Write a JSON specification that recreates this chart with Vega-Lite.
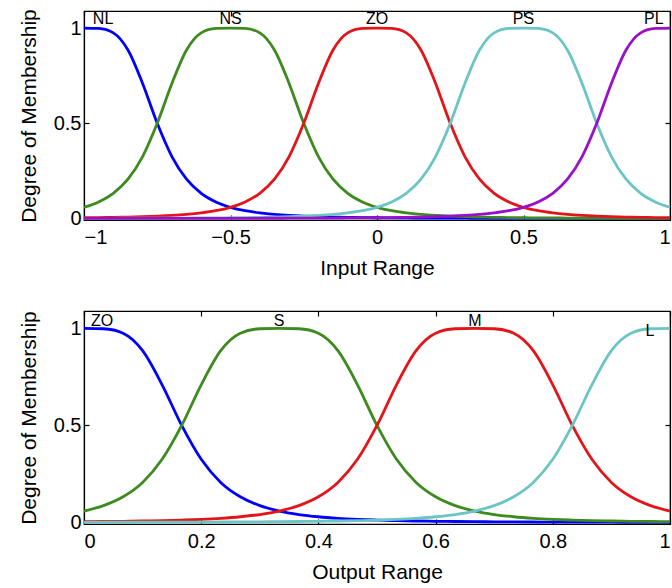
{
  "$schema": "https://vega.github.io/schema/vega-lite/v6.json",
  "padding": {"left": 17, "top": 8, "right": 0, "bottom": 0},
  "config": {
    "font": "Liberation Sans",
    "view": {"stroke": "black", "strokeWidth": 1.2},
    "axis": {
      "domainColor": "black", "domainWidth": 1.2, "tickColor": "black", "tickSize": -5, "tickWidth": 1.2,
      "labelColor": "black", "labelFontSize": 20, "labelFont": "Liberation Sans",
      "titleColor": "black", "titleFontSize": 21, "titleFontWeight": "normal", "titleFont": "Liberation Sans",
      "grid": false, "labelPadding": 8
    },
    "axisBottom": {"labelPadding": 12}
  },
  "datasets": {
    "inp": [
      {"x": -1, "NL": 1, "NS": 0.0588, "ZO": 0.0039, "PS": 0.0008, "PL": 0.0002},
      {"x": -0.95, "NL": 0.9984, "NS": 0.087, "ZO": 0.0048, "PS": 0.0009, "PL": 0.0003},
      {"x": -0.9, "NL": 0.975, "NS": 0.1324, "ZO": 0.0059, "PS": 0.001, "PL": 0.0003},
      {"x": -0.85, "NL": 0.8853, "NS": 0.2065, "ZO": 0.0074, "PS": 0.0012, "PL": 0.0003},
      {"x": -0.8, "NL": 0.7095, "NS": 0.3254, "ZO": 0.0094, "PS": 0.0014, "PL": 0.0004},
      {"x": -0.75, "NL": 0.5, "NS": 0.5, "ZO": 0.0122, "PS": 0.0016, "PL": 0.0004},
      {"x": -0.7, "NL": 0.3254, "NS": 0.7095, "ZO": 0.016, "PS": 0.0019, "PL": 0.0005},
      {"x": -0.65, "NL": 0.2065, "NS": 0.8853, "ZO": 0.0214, "PS": 0.0022, "PL": 0.0005},
      {"x": -0.6, "NL": 0.1324, "NS": 0.975, "ZO": 0.0293, "PS": 0.0027, "PL": 0.0006},
      {"x": -0.55, "NL": 0.087, "NS": 0.9984, "ZO": 0.0409, "PS": 0.0032, "PL": 0.0007},
      {"x": -0.5, "NL": 0.0588, "NS": 1, "ZO": 0.0588, "PS": 0.0039, "PL": 0.0008},
      {"x": -0.45, "NL": 0.0409, "NS": 0.9984, "ZO": 0.087, "PS": 0.0048, "PL": 0.0009},
      {"x": -0.4, "NL": 0.0293, "NS": 0.975, "ZO": 0.1324, "PS": 0.0059, "PL": 0.001},
      {"x": -0.35, "NL": 0.0214, "NS": 0.8853, "ZO": 0.2065, "PS": 0.0074, "PL": 0.0012},
      {"x": -0.3, "NL": 0.016, "NS": 0.7095, "ZO": 0.3254, "PS": 0.0094, "PL": 0.0014},
      {"x": -0.25, "NL": 0.0122, "NS": 0.5, "ZO": 0.5, "PS": 0.0122, "PL": 0.0016},
      {"x": -0.2, "NL": 0.0094, "NS": 0.3254, "ZO": 0.7095, "PS": 0.016, "PL": 0.0019},
      {"x": -0.15, "NL": 0.0074, "NS": 0.2065, "ZO": 0.8853, "PS": 0.0214, "PL": 0.0022},
      {"x": -0.1, "NL": 0.0059, "NS": 0.1324, "ZO": 0.975, "PS": 0.0293, "PL": 0.0027},
      {"x": -0.05, "NL": 0.0048, "NS": 0.087, "ZO": 0.9984, "PS": 0.0409, "PL": 0.0032},
      {"x": 0, "NL": 0.0039, "NS": 0.0588, "ZO": 1, "PS": 0.0588, "PL": 0.0039},
      {"x": 0.05, "NL": 0.0032, "NS": 0.0409, "ZO": 0.9984, "PS": 0.087, "PL": 0.0048},
      {"x": 0.1, "NL": 0.0027, "NS": 0.0293, "ZO": 0.975, "PS": 0.1324, "PL": 0.0059},
      {"x": 0.15, "NL": 0.0022, "NS": 0.0214, "ZO": 0.8853, "PS": 0.2065, "PL": 0.0074},
      {"x": 0.2, "NL": 0.0019, "NS": 0.016, "ZO": 0.7095, "PS": 0.3254, "PL": 0.0094},
      {"x": 0.25, "NL": 0.0016, "NS": 0.0122, "ZO": 0.5, "PS": 0.5, "PL": 0.0122},
      {"x": 0.3, "NL": 0.0014, "NS": 0.0094, "ZO": 0.3254, "PS": 0.7095, "PL": 0.016},
      {"x": 0.35, "NL": 0.0012, "NS": 0.0074, "ZO": 0.2065, "PS": 0.8853, "PL": 0.0214},
      {"x": 0.4, "NL": 0.001, "NS": 0.0059, "ZO": 0.1324, "PS": 0.975, "PL": 0.0293},
      {"x": 0.45, "NL": 0.0009, "NS": 0.0048, "ZO": 0.087, "PS": 0.9984, "PL": 0.0409},
      {"x": 0.5, "NL": 0.0008, "NS": 0.0039, "ZO": 0.0588, "PS": 1, "PL": 0.0588},
      {"x": 0.55, "NL": 0.0007, "NS": 0.0032, "ZO": 0.0409, "PS": 0.9984, "PL": 0.087},
      {"x": 0.6, "NL": 0.0006, "NS": 0.0027, "ZO": 0.0293, "PS": 0.975, "PL": 0.1324},
      {"x": 0.65, "NL": 0.0005, "NS": 0.0022, "ZO": 0.0214, "PS": 0.8853, "PL": 0.2065},
      {"x": 0.7, "NL": 0.0005, "NS": 0.0019, "ZO": 0.016, "PS": 0.7095, "PL": 0.3254},
      {"x": 0.75, "NL": 0.0004, "NS": 0.0016, "ZO": 0.0122, "PS": 0.5, "PL": 0.5},
      {"x": 0.8, "NL": 0.0004, "NS": 0.0014, "ZO": 0.0094, "PS": 0.3254, "PL": 0.7095},
      {"x": 0.85, "NL": 0.0003, "NS": 0.0012, "ZO": 0.0074, "PS": 0.2065, "PL": 0.8853},
      {"x": 0.9, "NL": 0.0003, "NS": 0.001, "ZO": 0.0059, "PS": 0.1324, "PL": 0.975},
      {"x": 0.95, "NL": 0.0003, "NS": 0.0009, "ZO": 0.0048, "PS": 0.087, "PL": 0.9984},
      {"x": 1, "NL": 0.0002, "NS": 0.0008, "ZO": 0.0039, "PS": 0.0588, "PL": 1}
    ],
    "out": [
      {"x": 0, "ZO": 1, "S": 0.0588, "M": 0.0039, "L": 0.0008},
      {"x": 0.0333, "ZO": 0.9984, "S": 0.087, "M": 0.0048, "L": 0.0009},
      {"x": 0.0667, "ZO": 0.975, "S": 0.1324, "M": 0.0059, "L": 0.001},
      {"x": 0.1, "ZO": 0.8853, "S": 0.2065, "M": 0.0074, "L": 0.0012},
      {"x": 0.1333, "ZO": 0.7095, "S": 0.3254, "M": 0.0094, "L": 0.0014},
      {"x": 0.1667, "ZO": 0.5, "S": 0.5, "M": 0.0122, "L": 0.0016},
      {"x": 0.2, "ZO": 0.3254, "S": 0.7095, "M": 0.016, "L": 0.0019},
      {"x": 0.2333, "ZO": 0.2065, "S": 0.8853, "M": 0.0214, "L": 0.0022},
      {"x": 0.2667, "ZO": 0.1324, "S": 0.975, "M": 0.0293, "L": 0.0027},
      {"x": 0.3, "ZO": 0.087, "S": 0.9984, "M": 0.0409, "L": 0.0032},
      {"x": 0.3333, "ZO": 0.0588, "S": 1, "M": 0.0588, "L": 0.0039},
      {"x": 0.3667, "ZO": 0.0409, "S": 0.9984, "M": 0.087, "L": 0.0048},
      {"x": 0.4, "ZO": 0.0293, "S": 0.975, "M": 0.1324, "L": 0.0059},
      {"x": 0.4333, "ZO": 0.0214, "S": 0.8853, "M": 0.2065, "L": 0.0074},
      {"x": 0.4667, "ZO": 0.016, "S": 0.7095, "M": 0.3254, "L": 0.0094},
      {"x": 0.5, "ZO": 0.0122, "S": 0.5, "M": 0.5, "L": 0.0122},
      {"x": 0.5333, "ZO": 0.0094, "S": 0.3254, "M": 0.7095, "L": 0.016},
      {"x": 0.5667, "ZO": 0.0074, "S": 0.2065, "M": 0.8853, "L": 0.0214},
      {"x": 0.6, "ZO": 0.0059, "S": 0.1324, "M": 0.975, "L": 0.0293},
      {"x": 0.6333, "ZO": 0.0048, "S": 0.087, "M": 0.9984, "L": 0.0409},
      {"x": 0.6667, "ZO": 0.0039, "S": 0.0588, "M": 1, "L": 0.0588},
      {"x": 0.7, "ZO": 0.0032, "S": 0.0409, "M": 0.9984, "L": 0.087},
      {"x": 0.7333, "ZO": 0.0027, "S": 0.0293, "M": 0.975, "L": 0.1324},
      {"x": 0.7667, "ZO": 0.0022, "S": 0.0214, "M": 0.8853, "L": 0.2065},
      {"x": 0.8, "ZO": 0.0019, "S": 0.016, "M": 0.7095, "L": 0.3254},
      {"x": 0.8333, "ZO": 0.0016, "S": 0.0122, "M": 0.5, "L": 0.5},
      {"x": 0.8667, "ZO": 0.0014, "S": 0.0094, "M": 0.3254, "L": 0.7095},
      {"x": 0.9, "ZO": 0.0012, "S": 0.0074, "M": 0.2065, "L": 0.8853},
      {"x": 0.9333, "ZO": 0.001, "S": 0.0059, "M": 0.1324, "L": 0.975},
      {"x": 0.9667, "ZO": 0.0009, "S": 0.0048, "M": 0.087, "L": 0.9984},
      {"x": 1, "ZO": 0.0008, "S": 0.0039, "M": 0.0588, "L": 1}
    ],
    "inlab": [
      {"x": -0.935, "y": 1.05, "t": "NL"},
      {"x": -0.5, "y": 1.05, "t": "NS"},
      {"x": 0, "y": 1.05, "t": "ZO"},
      {"x": 0.5, "y": 1.05, "t": "PS"},
      {"x": 0.945, "y": 1.05, "t": "PL"}
    ],
    "outlab": [
      {"x": 0.031, "y": 1.036, "t": "ZO"},
      {"x": 0.333, "y": 1.036, "t": "S"},
      {"x": 0.667, "y": 1.036, "t": "M"},
      {"x": 0.966, "y": 0.985, "t": "L"}
    ]
  },
  "spacing": 30,
  "resolve": {"scale": {"color": "independent", "x": "independent", "y": "independent"}},
  "vconcat": [
    {
      "width": 586,
      "height": 209,
      "resolve": {"axis": {"x": "independent", "y": "independent"}},
      "layer": [
        {
          "data": {"name": "inp"},
          "transform": [{"fold": ["NL", "NS", "ZO", "PS", "PL"], "as": ["mf", "mu"]}],
          "mark": {"type": "line", "strokeWidth": 2.8, "interpolate": "monotone"},
          "encoding": {
            "x": {"field": "x", "type": "quantitative", "scale": {"domain": [-1, 1], "nice": false, "zero": false},
                  "axis": {"values": [-1, -0.5, 0, 0.5, 1], "format": "~g", "title": "Input Range", "titlePadding": 10}},
            "y": {"field": "mu", "type": "quantitative", "scale": {"domain": [-0.008, 1.09], "nice": false},
                  "axis": {"values": [0, 0.5, 1], "format": "~g", "title": "Degree of Membership", "titlePadding": 14}},
            "color": {"field": "mf", "type": "nominal", "legend": null,
                      "scale": {"domain": ["NL", "NS", "ZO", "PS", "PL"], "range": ["#0000ff", "#3d8a1e", "#e3141a", "#6cc5c5", "#9a0fc8"]}},
            "order": {"field": "x", "type": "quantitative"}
          }
        },
        {
          "data": {"name": "inlab"},
          "mark": {"type": "text", "fontSize": 16, "font": "Liberation Sans", "color": "black"},
          "encoding": {
            "x": {"field": "x", "type": "quantitative", "axis": {"orient": "top", "values": [-1, -0.5, 0, 0.5, 1], "labels": false, "title": null}},
            "y": {"field": "y", "type": "quantitative", "axis": {"orient": "right", "values": [0, 0.5, 1], "labels": false, "title": null}},
            "text": {"field": "t"}
          }
        }
      ]
    },
    {
      "width": 586,
      "height": 213,
      "resolve": {"axis": {"x": "independent", "y": "independent"}},
      "layer": [
        {
          "data": {"name": "out"},
          "transform": [{"fold": ["ZO", "S", "M", "L"], "as": ["mf", "mu"]}],
          "mark": {"type": "line", "strokeWidth": 2.8, "interpolate": "monotone"},
          "encoding": {
            "x": {"field": "x", "type": "quantitative", "scale": {"domain": [0, 1], "nice": false},
                  "axis": {"values": [0, 0.2, 0.4, 0.6, 0.8, 1], "format": "~g", "title": "Output Range", "titlePadding": 10}},
            "y": {"field": "mu", "type": "quantitative", "scale": {"domain": [-0.008, 1.09], "nice": false},
                  "axis": {"values": [0, 0.5, 1], "format": "~g", "title": "Degree of Membership", "titlePadding": 14}},
            "color": {"field": "mf", "type": "nominal", "legend": null,
                      "scale": {"domain": ["ZO", "S", "M", "L"], "range": ["#0000ff", "#3d8a1e", "#e3141a", "#6cc5c5"]}},
            "order": {"field": "x", "type": "quantitative"}
          }
        },
        {
          "data": {"name": "outlab"},
          "mark": {"type": "text", "fontSize": 16, "font": "Liberation Sans", "color": "black"},
          "encoding": {
            "x": {"field": "x", "type": "quantitative", "axis": {"orient": "top", "values": [0, 0.2, 0.4, 0.6, 0.8, 1], "labels": false, "title": null}},
            "y": {"field": "y", "type": "quantitative", "axis": {"orient": "right", "values": [0, 0.5, 1], "labels": false, "title": null}},
            "text": {"field": "t"}
          }
        }
      ]
    }
  ]
}
